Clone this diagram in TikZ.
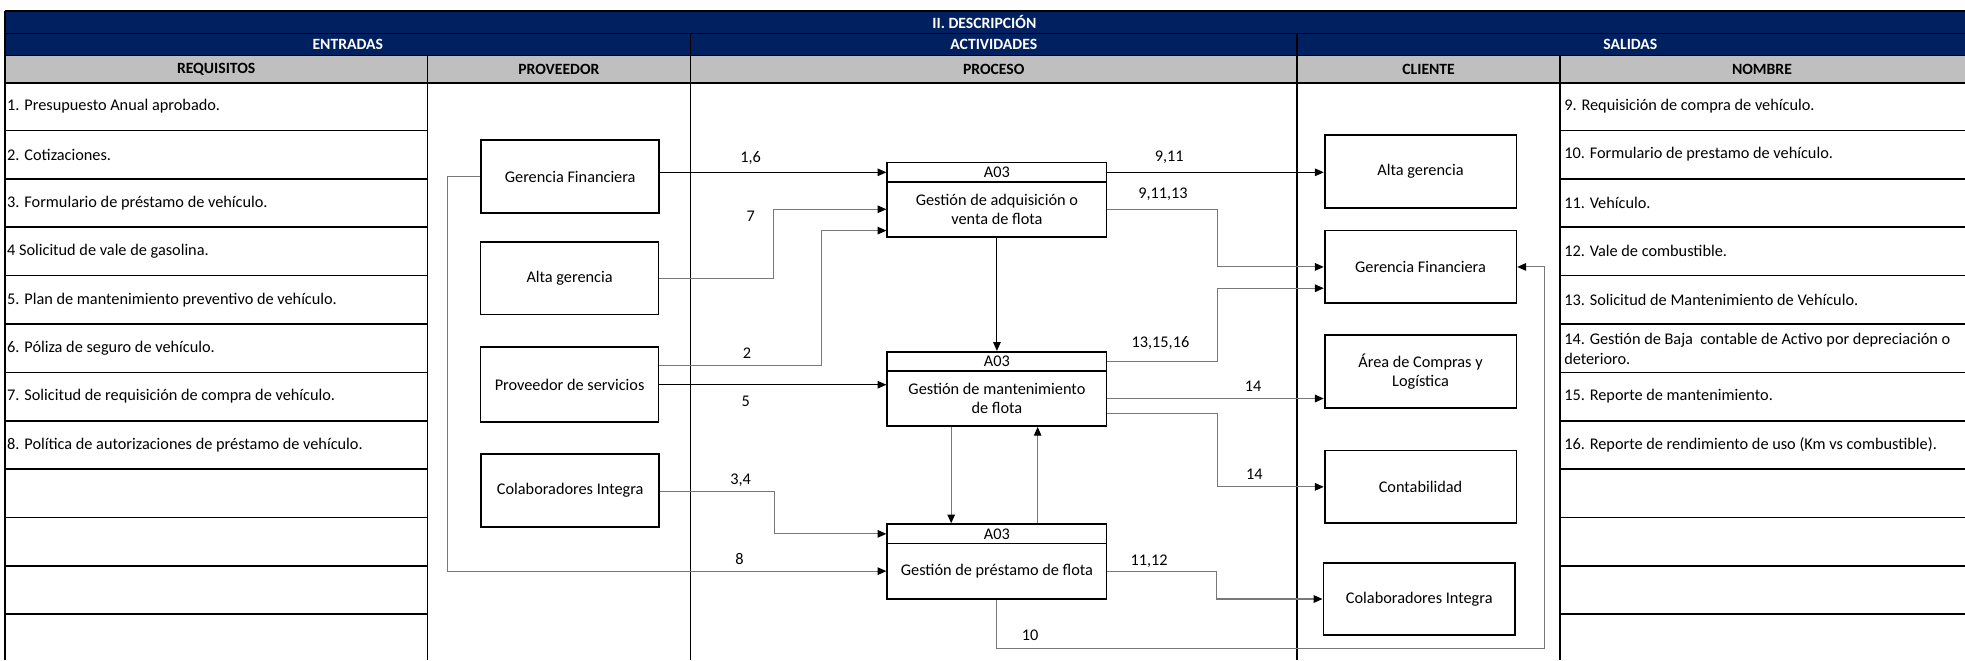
\documentclass[tikz,border=0pt]{standalone}
\usepackage{fontspec}
\setmainfont{Carlito}
\usetikzlibrary{arrows.meta,calc}
\definecolor{navy}{RGB}{0,32,96}
\definecolor{hdrgray}{RGB}{191,191,191}
\definecolor{conngray}{RGB}{120,120,120}
\begin{document}
\begin{tikzpicture}[x=1pt,y=-1pt,
  txt/.style={font=\fontsize{13}{15.6}\selectfont, inner sep=0pt},
  hdr/.style={font=\bfseries\fontsize{12.5}{14}\selectfont, inner sep=0pt},
  tbl/.style={draw=black, line width=1.3pt},
  pbox/.style={draw=black, line width=1.4pt, inner sep=0pt, align=center,
    font=\fontsize{13}{15.6}\selectfont, minimum width=142pt, minimum height=58pt},
  cbox/.style={pbox, minimum width=153pt},
  ahdr/.style={draw=black, line width=1.4pt, inner sep=0pt, minimum width=175pt,
    minimum height=15.5pt, font=\fontsize{13}{15.6}\selectfont},
  abody/.style={ahdr, minimum height=44pt, align=center},
  tip/.style={-{Triangle[length=7pt,width=6pt,color=black]}},
  dk/.style={draw=black, line width=0.8pt, tip},
  gr/.style={draw=conngray, line width=0.9pt, tip}
]
\useasboundingbox (0,0) rectangle (1568,527);

% header fills
\fill[navy] (4,9) rectangle (1568,44.3);
\fill[hdrgray] (4,44.3) rectangle (1568,66);

% table lines
\draw[tbl] (4,9) -- (1568,9);
\draw[tbl] (4,26.6) -- (1568,26.6);
\draw[tbl] (4,44.3) -- (1568,44.3);
\draw[tbl] (4,66) -- (1568,66);
\draw[tbl] (4,9) -- (4,527);
\draw[tbl] (551,26.6) -- (551,527);
\draw[tbl] (1035,26.6) -- (1035,527);
\draw[tbl] (341,44.3) -- (341,527);
\draw[tbl] (1245,44.3) -- (1245,527);
\foreach \k in {1,...,11}{
  \draw[tbl] (4,{65.5+38.6*\k}) -- (341,{65.5+38.6*\k});
  \draw[tbl] (1245,{65.5+38.6*\k}) -- (1568,{65.5+38.6*\k});
}

% header texts
\node[hdr,text=white] (tTitle) at (785.5,17.8) {II. DESCRIPCIÓN};
\node[hdr,text=white] (tEnt) at (277.5,35.4) {ENTRADAS};
\node[hdr,text=white] (tAct) at (793,35.4) {ACTIVIDADES};
\node[hdr,text=white] (tSal) at (1301,35.4) {SALIDAS};
\node[hdr] (tReq) at (172.5,55.2) {REQUISITOS};
\node[hdr] (tProv) at (446,55.2) {PROVEEDOR};
\node[hdr] (tProc) at (793,55.2) {PROCESO};
\node[hdr] (tCli) at (1140,55.2) {CLIENTE};
\node[hdr] (tNom) at (1406,55.2) {NOMBRE};

% requisitos
\node[txt,anchor=west] (r1) at (5.5,84.8) {1. Presupuesto Anual aprobado.};
\node[txt,anchor=west] (r2) at (5.5,123.4) {2. Cotizaciones.};
\node[txt,anchor=west] (r3) at (5.5,162) {3. Formulario de préstamo de vehículo.};
\node[txt,anchor=west] (r4) at (5.5,200.6) {4 Solicitud de vale de gasolina.};
\node[txt,anchor=west] (r5) at (5.5,239.2) {5. Plan de mantenimiento preventivo de vehículo.};
\node[txt,anchor=west] (r6) at (5.5,277.8) {6. Póliza de seguro de vehículo.};
\node[txt,anchor=west] (r7) at (5.5,316.4) {7. Solicitud de requisición de compra de vehículo.};
\node[txt,anchor=west] (r8) at (5.5,355) {8. Política de autorizaciones de préstamo de vehículo.};

% nombre
\node[txt,anchor=west] (n9) at (1248,84.8) {9. Requisición de compra de vehículo.};
\node[txt,anchor=west] (n10) at (1248,123.4) {10. Formulario de prestamo de vehículo.};
\node[txt,anchor=west] (n11) at (1248,162) {11. Vehículo.};
\node[txt,anchor=west] (n12) at (1248,200.6) {12. Vale de combustible.};
\node[txt,anchor=west] (n13) at (1248,239.2) {13. Solicitud de Mantenimiento de Vehículo.};
\node[txt,anchor=west,align=left] (n14) at (1248,278.5) {14. Gestión de Baja\ \ contable de Activo por depreciación o\\deterioro.};
\node[txt,anchor=west] (n15) at (1248,316.4) {15. Reporte de mantenimiento.};
\node[txt,anchor=west] (n16) at (1248,355) {16. Reporte de rendimiento de uso (Km vs combustible).};

% proveedor boxes
\node[pbox] (pGF) at (455,141) {Gerencia Financiera};
\node[pbox] (pAG) at (454.5,222) {Alta gerencia};
\node[pbox, minimum height=60pt] (pPS) at (454.5,307) {Proveedor de servicios};
\node[pbox] (pCI) at (455,391.5) {Colaboradores Integra};

% process boxes
\node[ahdr] (A1h) at (795.5,137.5) {A03};
\node[abody] (A1b) at (795.5,167) {Gestión de adquisición o\\venta de flota};
\node[ahdr] (A2h) at (795.5,288.5) {A03};
\node[abody] (A2b) at (795.5,318) {Gestión de mantenimiento\\de flota};
\node[ahdr] (A3h) at (795.5,426) {A03};
\node[abody] (A3b) at (795.5,455.75) {Gestión de préstamo de flota};

% client boxes
\node[cbox] (cAG) at (1133.5,137) {Alta gerencia};
\node[cbox] (cGF) at (1133.5,213) {Gerencia Financiera};
\node[cbox] (cAC) at (1133.5,296.5) {Área de Compras y\\Logística};
\node[cbox] (cCO) at (1133.5,388.5) {Contabilidad};
\node[cbox] (cCI) at (1132.5,478) {Colaboradores Integra};

% inputs
\draw[dk] (pGF.east |- A1h.west) -- (A1h.west);
\draw[gr] (pAG.east) -- ++(91,0) |- (A1b.west);
\draw[gr] ([yshift=15pt]pPS.east) -- ++(129,0) |- ([yshift=-17pt]A1b.west);
\draw[dk] (pPS.east) -- (pPS.east -| A2b.west);
\draw[gr] ([yshift=-1pt]pCI.east) -- ++(91,0) |- (A3h.west);
\draw[gr] (pGF.west) -- ++(-26,0) |- (A3b.west);

% between processes
\draw[dk] (A1b.south) -- (A2h.north);
\draw[gr] ([xshift=-36.5pt]A2b.south) -- ([xshift=-36.5pt]A3h.north);
\draw[gr] ([xshift=32.5pt]A3h.north) -- ([xshift=32.5pt]A2b.south);

% outputs
\draw[dk] (A1h.east) -- (A1h.east -| cAG.west);
\draw[gr] (A1b.east) -- ++(88,0) |- (cGF.west);
\draw[gr] (A2h.east) -- ++(88,0) |- ([yshift=-17pt]cGF.west);
\draw[gr] (A2b.east) -- (A2b.east -| cAC.west);
\draw[gr] ([yshift=-12pt]A2b.east) -- ++(88,0) |- (cCO.west);
\draw[gr] (A3b.east) -- ++(87,0) |- (cCI.west);
\draw[gr] (A3b.south) -- ++(0,39) -| ([xshift=22pt]cGF.east) -- (cGF.east);

% labels
\node[txt] (l16) at (599,125.8) {1,6};
\node[txt] (l7) at (599,172.4) {7};
\node[txt] (l2) at (596,282) {2};
\node[txt] (l5) at (595,320.5) {5};
\node[txt] (l34) at (591,383) {3,4};
\node[txt] (l8) at (590,446) {8};
\node[txt] (l911) at (933,125.8) {9,11};
\node[txt] (l91113) at (928,154.8) {9,11,13};
\node[txt] (l131516) at (926,273.4) {13,15,16};
\node[txt] (l14a) at (1000,308.6) {14};
\node[txt] (l14b) at (1001,378.5) {14};
\node[txt] (l1112) at (917,448.2) {11,12};
\node[txt] (l10) at (822,506.7) {10};
\end{tikzpicture}
\end{document}
